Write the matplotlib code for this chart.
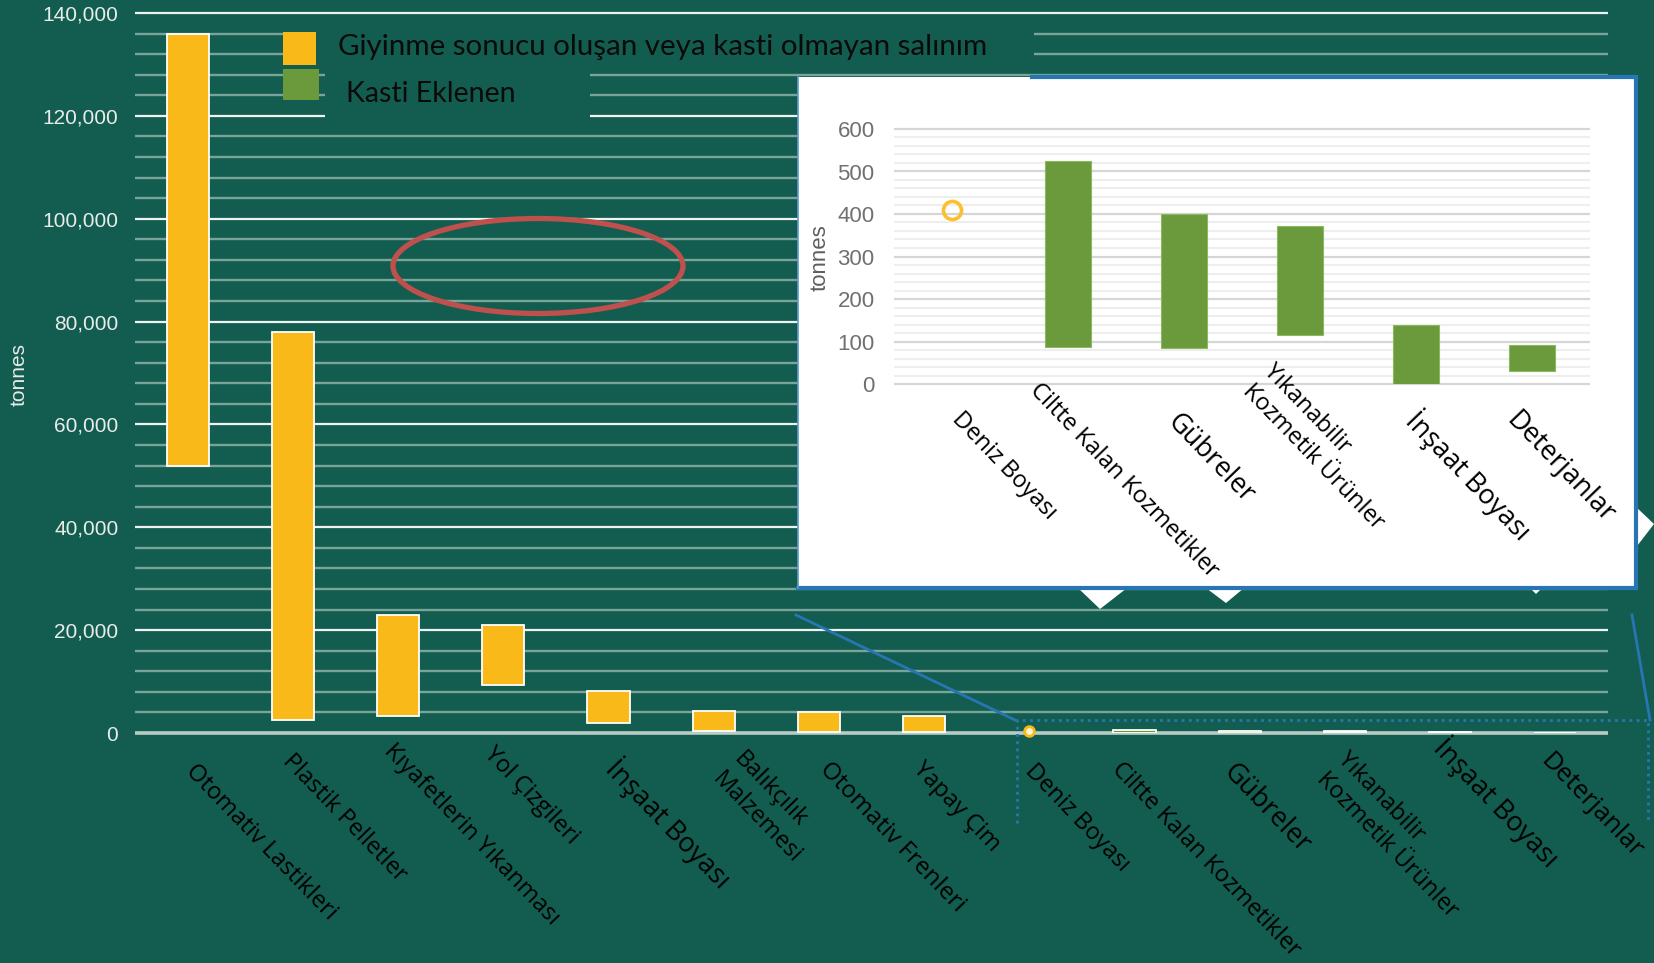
import numpy as np
import matplotlib
matplotlib.use('Agg')
import matplotlib.pyplot as plt
from matplotlib.patches import Ellipse, Rectangle, Polygon
from matplotlib.lines import Line2D

# ---------------- data ----------------
main_categories = ['Otomativ Lastikleri', 'Plastik Pelletler', 'Kıyafetlerin Yıkanması',
                   'Yol Çizgileri', 'İnşaat Boyası', 'Balıkçılık\nMalzemesi',
                   'Otomativ Frenleri', 'Yapay Çim', 'Deniz Boyası',
                   'Ciltte Kalan Kozmetikler', 'Gübreler', 'Yıkanabilir\nKozmetik Ürünler',
                   'İnşaat Boyası', 'Deterjanlar']
release_low = [52000, 2500, 3300, 9400, 2000, 400, 100, 200]
release_high = [136000, 78000, 23000, 21000, 8200, 4300, 4100, 3300]
marine_paint_value = 410
intentional_categories = ['Ciltte Kalan Kozmetikler', 'Gübreler',
                          'Yıkanabilir\nKozmetik Ürünler', 'İnşaat Boyası', 'Deterjanlar']
intentional_low = [88, 85, 115, 0, 30]
intentional_high = [525, 400, 372, 140, 92]
inset_categories = ['Deniz Boyası'] + intentional_categories
main_yticks = [0, 20000, 40000, 60000, 80000, 100000, 120000, 140000]
inset_yticks = [0, 100, 200, 300, 400, 500, 600]
legend_labels = ['Giyinme sonucu oluşan veya kasti olmayan salınım', 'Kasti Eklenen']
y_label = 'tonnes'

# ---------------- style / layout ----------------
W, H, DPI = 1654, 963, 100
BG = '#135D50'
YEL = '#F9B918'
GRN = '#6A9A3C'
BLUE = '#2776B3'
MAJ = '#EEF2F0'
MIN = '#78A49A'

main_label_dx = [3, -6, -9, -15, 3, 14, 5, -6, 0, -18, -11, -13, -11, -10]
main_label_y = [767, 757, 747, 750, 763, 765, 765, 765, 767, 765, 767, 765, 742, 756]
main_label_size = [17, 17, 17, 17, 19.5, 17, 17.5, 17, 17, 17, 19.5, 17, 19.5, 18.5]
inset_label_dx = [5, -34, -12, -42, -4, -21]
inset_label_y = [415, 386, 417, 377, 415, 415]
inset_label_size = [17, 17, 19.5, 17, 19.5, 19.5]
ROT = -46

fig = plt.figure(figsize=(W / DPI, H / DPI), dpi=DPI, facecolor=BG)


def fx(px):
    return px / W


def fy(py):
    return 1 - py / H


# ---------------- main axes ----------------
ax = fig.add_axes([fx(135), fy(733), (1608 - 135) / W, (733 - 13) / H])
ax.set_facecolor(BG)
ax.set_xlim(-0.5, len(main_categories) - 0.5)
ax.set_ylim(0, main_yticks[-1])
for s in ax.spines.values():
    s.set_visible(False)

step = (main_yticks[1] - main_yticks[0]) / 5
minor = [v for v in np.arange(0, main_yticks[-1] + 1, step) if v not in main_yticks]
ax.hlines(minor, -0.5, len(main_categories) - 0.5, color=MIN, lw=1.7, zorder=1)
ax.hlines(main_yticks[1:], -0.5, len(main_categories) - 0.5, color=MAJ, lw=1.6, zorder=1,
          clip_on=False)
ax.hlines([0], -0.5, len(main_categories) - 0.5, color='#B9CBC5', lw=2.6, zorder=1,
          clip_on=False)

ax.set_yticks(main_yticks)
ax.set_yticklabels([f'{v:,}' for v in main_yticks], fontfamily='Liberation Sans')
ax.tick_params(axis='y', length=0, pad=12, labelcolor='#E8ECEA', labelsize=15)
ax.set_xticks([])

x_main = np.arange(len(main_categories))
x_rel = x_main[:len(release_low)]
ax.bar(x_rel, np.array(release_high) - np.array(release_low), bottom=release_low,
       width=0.4, color=YEL, edgecolor='white', linewidth=1.3, zorder=3)
x_int = x_main[len(release_low) + 1:]
ax.bar(x_int, np.array(intentional_high) - np.array(intentional_low), bottom=intentional_low,
       width=0.4, color=GRN, edgecolor='white', linewidth=1.3, zorder=3)
ax.plot([x_main[len(release_low)]], [marine_paint_value], 'o', ms=7, mfc='#FFF4D0',
        mec=YEL, mew=2, zorder=4, clip_on=False)

# dotted zoom rectangle (around the small-value categories)
zx0 = x_main[len(release_low)] - 0.12
zx1 = x_main[-1] + 0.88
ax.plot([zx0, zx0, zx1, zx1], [-17500, 2500, 2500, -17500], ls=(0, (1, 1.6)),
        color=BLUE, lw=2, clip_on=False, zorder=2)

for i, (lab, dx, ys, fs) in enumerate(zip(main_categories, main_label_dx, main_label_y,
                                          main_label_size)):
    cx = ax.transData.transform((x_main[i], 0))[0]
    fig.text(fx(cx + dx - 1), fy(ys + 1), lab, rotation=ROT, rotation_mode='anchor',
             ha='left', va='center', fontsize=fs, fontfamily='Open Sans', color='black',
             linespacing=1.3, zorder=6)

fig.text(fx(19), fy(374), y_label, rotation=90, ha='center', va='center', fontsize=15,
         color='#E8ECEA', fontfamily='Liberation Sans')

# ---------------- legend ----------------
fig.patches.append(Rectangle((fx(283), fy(66)), (1034 - 283) / W, (66 - 22) / H,
                             transform=fig.transFigure, facecolor=BG, edgecolor='none',
                             zorder=1))
fig.patches.append(Rectangle((fx(325), fy(126)), (590 - 325) / W, (126 - 66) / H,
                             transform=fig.transFigure, facecolor=BG, edgecolor='none',
                             zorder=1))
fig.patches.append(Rectangle((fx(283), fy(65)), 33 / W, 33 / H, transform=fig.transFigure,
                             facecolor=YEL, edgecolor='none', zorder=2))
fig.patches.append(Rectangle((fx(283), fy(100)), 36 / W, 31 / H, transform=fig.transFigure,
                             facecolor=GRN, edgecolor='none', zorder=2))
t1 = fig.text(fx(338), fy(47), legend_labels[0], ha='left', va='center', fontsize=20,
              fontfamily='Lato', color='#0A0A0A', zorder=3)
t2 = fig.text(fx(346), fy(94), legend_labels[1], ha='left', va='center', fontsize=20,
              fontfamily='Lato', color='#0A0A0A', zorder=3)
r = fig.canvas.get_renderer()
for t, target in ((t1, 649), (t2, 170)):
    w = t.get_window_extent(renderer=r).width
    t.set_fontsize(20 * target / w)

# red ellipse
fig.patches.append(Ellipse((fx(538), fy(266)), 290 / W, 95 / H, transform=fig.transFigure,
                           fill=False, edgecolor='#C0504D', lw=3.8, zorder=3))

# ---------------- inset ----------------
fig.patches.append(Rectangle((fx(798), fy(588)), (1636 - 798) / W, (588 - 77) / H,
                             transform=fig.transFigure, facecolor='white', edgecolor='none',
                             zorder=2))
for tri in ([(1078, 588), (1127, 588), (1100, 609)],
            [(1206, 588), (1244, 588), (1226, 603)],
            [(1530, 588), (1542, 588), (1536, 594)],
            [(1634, 505), (1634, 550), (1654, 524)]):
    fig.patches.append(Polygon([(fx(a), fy(b)) for a, b in tri], closed=True,
                               transform=fig.transFigure, facecolor='white',
                               edgecolor='none', zorder=2))
for seg, lw, col in (([(1032, 77), (1636, 77)], 3, BLUE),
                     ([(1636, 77), (1636, 588)], 3, BLUE),
                     ([(798, 588), (1636, 588)], 3, BLUE),
                     ([(798, 77), (798, 588)], 1.2, '#5E9CC9'),
                     ([(796, 615), (1015, 720)], 2, BLUE),
                     ([(1632, 615), (1650, 720)], 2, BLUE)):
    (xa, ya), (xb, yb) = seg
    fig.lines.append(Line2D([fx(xa), fx(xb)], [fy(ya), fy(yb)], transform=fig.transFigure,
                            color=col, lw=lw, zorder=3))

axi = fig.add_axes([fx(894), fy(384), (1590 - 894) / W, (384 - 129) / H])
axi.set_zorder(5)
axi.patch.set_alpha(0)
axi.set_xlim(-0.5, len(inset_categories) - 0.5)
axi.set_ylim(0, inset_yticks[-1])
for s in axi.spines.values():
    s.set_visible(False)
istep = (inset_yticks[1] - inset_yticks[0]) / 5
iminor = [v for v in np.arange(0, inset_yticks[-1] + 1, istep) if v not in inset_yticks]
axi.hlines(iminor, -0.5, len(inset_categories) - 0.5, color='#EEEEEE', lw=1.5, zorder=1)
axi.hlines(inset_yticks, -0.5, len(inset_categories) - 0.5, color='#D6D6D6', lw=1.6,
           zorder=1, clip_on=False)
axi.set_yticks(inset_yticks)
axi.set_yticklabels([str(v) for v in inset_yticks], fontfamily='Liberation Sans')
axi.tick_params(axis='y', length=0, pad=14, labelcolor='#707070', labelsize=16)
axi.set_xticks([])

x_in = np.arange(len(inset_categories))
axi.bar(x_in[1:], np.array(intentional_high) - np.array(intentional_low),
        bottom=intentional_low, width=0.39, color=GRN, edgecolor='#8CB860', linewidth=0.8,
        zorder=3)
axi.plot([x_in[0]], [marine_paint_value], 'o', ms=13, mfc='none', mec='#FBC02D', mew=2.6,
         zorder=4)

for i, (lab, dx, ys, fs) in enumerate(zip(inset_categories, inset_label_dx, inset_label_y,
                                          inset_label_size)):
    cx = axi.transData.transform((x_in[i], 0))[0]
    fig.text(fx(cx + dx - 1), fy(ys + 1), lab, rotation=ROT, rotation_mode='anchor',
             ha='left', va='center', fontsize=fs, fontfamily='Open Sans', color='black',
             linespacing=1.3, zorder=7)

fig.text(fx(820), fy(258), y_label, rotation=90, ha='center', va='center', fontsize=16,
         color='#5E5E5E', fontfamily='Liberation Sans', zorder=7)

fig.savefig('out.png', dpi=DPI, facecolor=BG)
